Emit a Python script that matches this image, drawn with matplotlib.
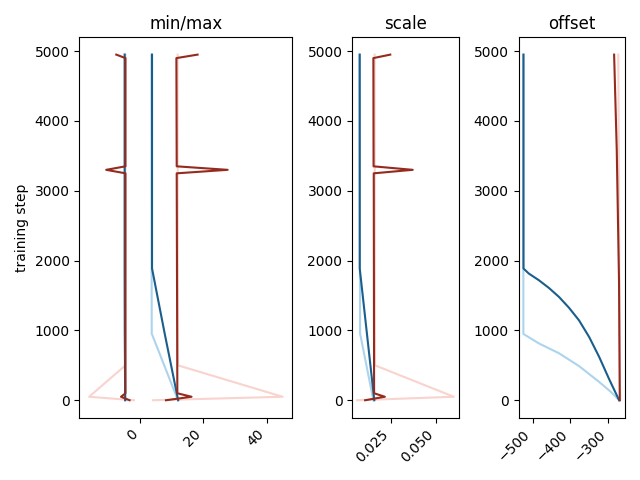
import numpy as np
import matplotlib
matplotlib.use("Agg")
import matplotlib.pyplot as plt

# dark blue run
blue_steps = [0, 955, 1887, 4950]
blue_max = [12.06, 7.8, 3.8, 3.8]
blue_min = [-4.7, -4.8, -4.85, -4.85]
blue_scale = [0.0158, 0.0117, 0.0077, 0.0077]
blue_off_steps = [0, 300, 620, 905, 1145, 1325, 1480, 1610, 1720, 1815, 1887, 4950]
blue_offset = [-270.7, -297, -323.5, -350, -377, -403.5, -430, -457, -483.5, -510, -524, -524]

# light blue run
lblue_steps = [0, 955, 4950]
lblue_max = [12.0, 3.7, 3.6]
lblue_min = [-4.6, -4.8, -4.8]
lblue_scale = [0.0153, 0.0079, 0.0075]
lblue_off_steps = [0, 119, 262, 490, 673, 815, 950, 4950]
lblue_offset = [-270.5, -292.5, -323.5, -377, -430, -483.5, -524.3, -524.3]

# dark red run
red_steps = [0, 50, 100, 3250, 3300, 3350, 4900, 4950]
red_max = [8.2, 16.3, 11.8, 11.6, 27.7, 11.6, 11.5, 18.2]
red_min = [-3.3, -6.0, -4.6, -4.6, -10.7, -4.6, -4.6, -7.5]
red_scale = [0.0107, 0.0217, 0.0157, 0.0155, 0.0372, 0.0154, 0.0153, 0.0247]
red_off_steps = [0, 1700, 3580, 4950]
red_offset = [-269, -271, -277, -284]

# light red run
pink_steps = [0, 50, 500, 4950]
pink_max = [4.1, 45.1, 12.0, 11.9]
pink_min = [-1.9, -16.1, -4.6, -4.6]
pink_scale = [0.0062, 0.0601, 0.0162, 0.0160]
pink_offset = [-268, -268, -269, -273]

c_blue = '#1b5e8c'
c_lblue = '#acd4ee'
c_red = '#952a1e'
c_pink = '#f9d3cd'

fig, axs = plt.subplots(1, 3, figsize=(6.4, 4.8), gridspec_kw={'width_ratios': [2, 1, 1]})

# min/max
ax = axs[0]
ax.plot(pink_max, pink_steps, color=c_pink)
ax.plot(pink_min, pink_steps, color=c_pink)
ax.plot(lblue_max, lblue_steps, color=c_lblue)
ax.plot(lblue_min, lblue_steps, color=c_lblue)
ax.plot(blue_max, blue_steps, color=c_blue)
ax.plot(blue_min, blue_steps, color=c_blue)
ax.plot(red_max, red_steps, color=c_red)
ax.plot(red_min, red_steps, color=c_red)
ax.set_title("min/max")
ax.set_ylabel("training step")

# scale
ax = axs[1]
ax.plot(pink_scale, pink_steps, color=c_pink)
ax.plot(lblue_scale, lblue_steps, color=c_lblue)
ax.plot(blue_scale, blue_steps, color=c_blue)
ax.plot(red_scale, red_steps, color=c_red)
ax.set_title("scale")

# offset
ax = axs[2]
ax.plot(pink_offset, pink_steps, color=c_pink)
ax.plot(lblue_offset, lblue_off_steps, color=c_lblue)
ax.plot(blue_offset, blue_off_steps, color=c_blue)
ax.plot(red_offset, red_off_steps, color=c_red)
ax.set_title("offset")

for ax in axs:
    plt.setp(ax.get_xticklabels(), rotation=45, ha='right')

plt.tight_layout()
plt.savefig("out.png", dpi=100)
